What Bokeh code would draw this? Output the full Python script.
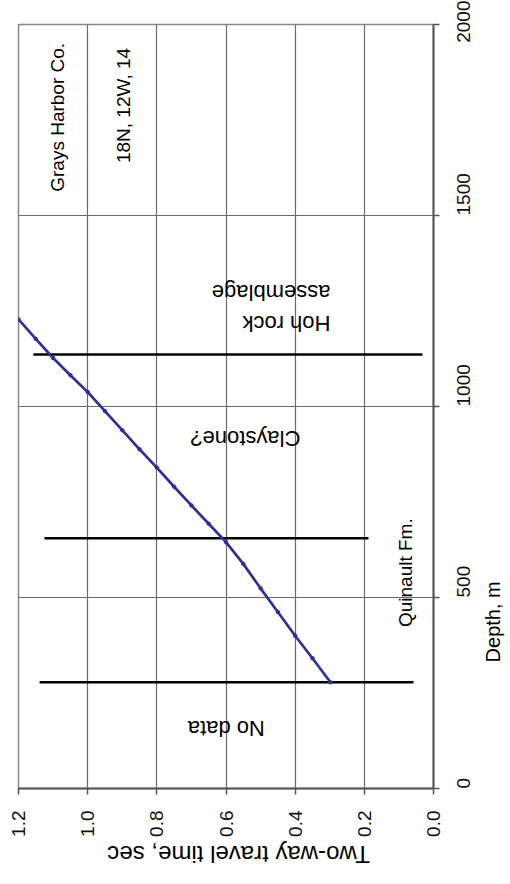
import math
from bokeh.plotting import figure
from bokeh.models import (Range1d, FixedTicker, NumeralTickFormatter, ColumnDataSource,
                          LinearAxis)
from bokeh.embed import file_html
from bokeh.resources import INLINE
from bokeh.core.properties import value

# ---- data (two-way travel time in sec, depth in m) ----
twt = [0.298, 0.35, 0.40, 0.45, 0.50, 0.55, 0.60, 0.65, 0.70, 0.75, 0.80,
       0.85, 0.90, 0.95, 1.00, 1.05, 1.10, 1.15, 1.20]
depth = [278, 341, 400, 462, 524, 588, 645, 693, 741, 790, 840,
         888, 938, 988, 1038, 1082, 1127, 1177, 1228]

boundary_depth = [278, 655, 1136]
boundary_t_start = [0.058, 0.188, 0.032]
boundary_t_end = [1.139, 1.125, 1.157]

time_ticks = [0.0, 0.2, 0.4, 0.6, 0.8, 1.0, 1.2]
depth_ticks = [0, 500, 1000, 1500, 2000]

# unit labels inside the chart
upside_labels = ["No data", "Claystone?"]
upside_t = [0.599, 0.544]
upside_d = [157, 916]

upright_labels = ["Quinault Fm.", "Grays Harbor Co.", "18N, 12W, 14"]
upright_t = [0.080, 1.087, 0.896]
upright_d = [565, 1757, 1788]

hoh_label = "Hoh rock\nassemblage"
hoh_t = 0.298
hoh_d = 1257

x_title = "Two-way travel time, sec"
y_title = "Depth, m"
# where along each axis its title sits (axis units)
x_title_at = 0.943
y_title_at = 330

FONT = "Liberation Sans"

p = figure(width=510, height=882, frame_width=415, frame_height=764,
           x_range=Range1d(1.2, 0.0), y_range=Range1d(0, 2000),
           y_axis_location="right", output_backend="svg",
           toolbar_location=None, min_border_left=18, min_border_top=24,
           min_border_right=77, min_border_bottom=94)
p.background_fill_color = "white"
p.border_fill_color = "white"
p.outline_line_color = "#888888"
p.outline_line_width = 1.5

# main axes
p.xaxis.ticker = FixedTicker(ticks=time_ticks)
p.xaxis.formatter = NumeralTickFormatter(format="0.0")
p.yaxis.ticker = FixedTicker(ticks=depth_ticks)
for ax in (p.xaxis[0], p.yaxis[0]):
    ax.axis_line_color = "#555555"
    ax.axis_line_width = 2
    ax.major_tick_line_color = "#555555"
    ax.major_tick_line_width = 1.5
    ax.major_tick_out = 6
    ax.major_tick_in = 0
    ax.minor_tick_line_color = None
    ax.major_label_text_font = FONT
    ax.major_label_text_font_size = "19px"
    ax.major_label_text_color = "#111111"
    ax.major_label_orientation = math.pi / 2
p.xaxis.major_label_standoff = 16
p.yaxis.major_label_standoff = 24


# title axes: one tick label (the title) placed where the source figure has it
def title_axis(label, at, orientation, size, standoff):
    return LinearAxis(ticker=FixedTicker(ticks=[at]), major_label_overrides={at: label},
                      axis_line_color=None, major_tick_line_color=None,
                      minor_tick_line_color=None, major_tick_out=0, major_tick_in=0,
                      major_label_standoff=standoff, major_label_orientation=orientation,
                      major_label_text_font=FONT, major_label_text_color="black",
                      major_label_text_font_size=size)


p.add_layout(title_axis(x_title, x_title_at, math.pi, "24px", 15), "below")
p.add_layout(title_axis(y_title, y_title_at, math.pi / 2, "20px", 14), "right")

p.xgrid.ticker = FixedTicker(ticks=time_ticks)
p.ygrid.ticker = FixedTicker(ticks=depth_ticks)
p.grid.grid_line_color = "#6a6a6a"
p.grid.grid_line_width = 1.2

# formation boundaries
p.segment(x0=boundary_t_start, y0=boundary_depth, x1=boundary_t_end, y1=boundary_depth,
          line_color="black", line_width=2.5)

# time-depth curve
src = ColumnDataSource(dict(t=twt, d=depth))
p.line("t", "d", source=src, line_color="#2e3192", line_width=2.7)
p.scatter("t", "d", source=src, size=3.5, color="#2e3192")

# labels
p.text(x=upside_t, y=upside_d, text=upside_labels, angle=math.pi,
       text_align="center", text_baseline="middle", text_font=value(FONT),
       text_font_size="22px", text_color="black")
p.text(x=upright_t, y=upright_d, text=upright_labels, angle=math.pi / 2,
       text_align="center", text_baseline="middle", text_font=value(FONT),
       text_font_size="19px", text_color="black")
p.text(x=[hoh_t], y=[hoh_d], text=[hoh_label], angle=math.pi,
       text_align="left", text_baseline="middle", text_font=value(FONT),
       text_font_size="22px", text_color="black", text_line_height=1.25)

open("out.html", "w").write(file_html(p, INLINE))
